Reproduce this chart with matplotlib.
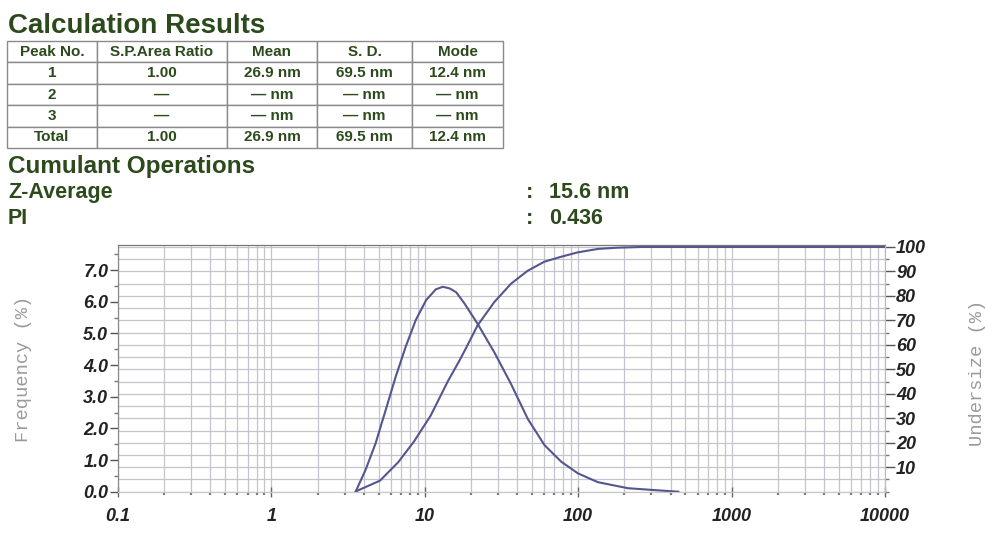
import numpy as np
import matplotlib.pyplot as plt
from matplotlib.ticker import FixedLocator, MultipleLocator, NullFormatter, LogLocator

plt.rcParams['font.family'] = ['Liberation Sans', 'DejaVu Sans']

# summary table
table_cols = ['Peak No.', 'S.P.Area Ratio', 'Mean', 'S. D.', 'Mode']
table_rows = [['1', '1.00', '26.9 nm', '69.5 nm', '12.4 nm'],
              ['2', '—', '— nm', '— nm', '— nm'],
              ['3', '—', '— nm', '— nm', '— nm'],
              ['Total', '1.00', '26.9 nm', '69.5 nm', '12.4 nm']]
cumulant_names = ['Z-Average', 'PI']
cumulant_values = ['15.6 nm', '0.436']

# frequency curve (%)
freq_size = [3.54, 4.11, 4.78, 5.56, 6.46, 7.51, 8.73, 10.2, 11.8, 13.1, 14.5, 16.0,
             18.1, 22.1, 28.4, 36.5, 46.9, 60.3, 77.4, 99.5, 134.5, 211, 316, 450]
freq_pct = [0.0, 0.69, 1.53, 2.58, 3.63, 4.58, 5.42, 6.05, 6.39, 6.47, 6.42, 6.3,
            5.95, 5.3, 4.4, 3.4, 2.3, 1.47, 0.95, 0.58, 0.3, 0.11, 0.05, 0.0]

# cumulative undersize curve (%)
cum_size = [3.54, 3.72, 5.1, 6.7, 8.5, 10.9, 12.4, 14.1, 16.8, 18.5, 22.1, 28.4,
            36.5, 46.9, 60.3, 77.4, 99.5, 134.5, 180, 260, 10000]
cum_pct = [0.0, 0.7, 4.5, 12.0, 20.5, 31.0, 38.0, 45.0, 53.5, 58.5, 68.0, 77.5,
           85.0, 90.3, 94.0, 96.0, 97.8, 99.2, 99.7, 100.0, 100.0]

x_ticks = [0.1, 1, 10, 100, 1000, 10000]
x_labels = ['0.1', '1', '10', '100', '1000', '10000']
freq_ticks = [0, 1, 2, 3, 4, 5, 6, 7]
cum_ticks = [10, 20, 30, 40, 50, 60, 70, 80, 90, 100]

W, H = 985, 558
green = '#2c4a1c'
line_col = '#55558f'
grid_col = '#c4c4cc'

fig = plt.figure(figsize=(W / 100, H / 100), dpi=100)

def fx(px):
    return px / W

def fy(py):
    return 1 - py / H

# headings
fig.text(fx(8), fy(33), 'Calculation Results', fontsize=20, fontweight='bold',
         color=green, va='baseline')
fig.text(fx(8), fy(173), 'Cumulant Operations', fontsize=17.5, fontweight='bold',
         color=green, va='baseline')
for i, (name, val) in enumerate(zip(cumulant_names, cumulant_values)):
    yb = fy(198 + i * 26)
    fig.text(fx(8), yb, name, fontsize=15.5, fontweight='bold', color=green, va='baseline')
    fig.text(fx(526), yb, ':', fontsize=15.5, fontweight='bold', color=green, va='baseline')
    fig.text(fx(549), yb, val, fontsize=15.5, fontweight='bold', color=green, va='baseline')

# table
tax = fig.add_axes([fx(7), fy(148), fx(503) - fx(7), (148 - 41) / H])
tax.axis('off')
col_w = np.array([90, 130, 90, 95, 91], dtype=float)
tbl = tax.table(cellText=table_rows, colLabels=table_cols, cellLoc='center',
                colWidths=list(col_w / col_w.sum()), bbox=[0, 0, 1, 1])
tbl.auto_set_font_size(False)
for (r, c), cell in tbl.get_celld().items():
    cell.set_edgecolor('#8a8a8a')
    cell.set_linewidth(1.0)
    cell.get_text().set_fontsize(11)
    cell.get_text().set_fontweight('bold')
    cell.get_text().set_color(green)

# main plot: cumulative on the base axes (right scale), frequency on the twin (left scale)
ax = fig.add_axes([fx(118), fy(491.7), fx(885) - fx(118), (491.7 - 245) / H])
ax.set_xscale('log')
ax.set_xlim(0.1, 10000)
ax.set_ylim(0, 100.8)
ax.set_axisbelow(True)
ax.plot(cum_size, cum_pct, color=line_col, lw=1.5)

ax2 = ax.twinx()
ax2.set_ylim(0, 7.79)
ax2.plot(freq_size, freq_pct, color=line_col, lw=1.5)
ax2.yaxis.tick_left()
ax.yaxis.tick_right()

ax.yaxis.set_major_locator(FixedLocator(cum_ticks))
ax.yaxis.set_minor_locator(MultipleLocator(5))
ax.xaxis.set_major_locator(FixedLocator(x_ticks))
ax.xaxis.set_minor_locator(LogLocator(base=10, subs=np.arange(2, 10)))
ax.xaxis.set_minor_formatter(NullFormatter())
ax.set_xticklabels(x_labels)
ax.grid(which='both', axis='both', color=grid_col, lw=0.9)
ax.tick_params(axis='y', which='major', direction='out', length=7, width=1,
               color='#555555', pad=1, labelsize=13)
ax.tick_params(axis='y', which='minor', direction='out', length=3, width=1, color='#777777')
ax.tick_params(axis='x', which='major', direction='inout', length=7, width=1,
               color='#666666', pad=8, labelsize=13)
ax.tick_params(axis='x', which='minor', direction='out', length=2, width=1.6, color='#777777')
for lab in ax.get_yticklabels() + ax.get_xticklabels():
    lab.set_fontweight('bold')
    lab.set_fontstyle('italic')
    lab.set_color('#222222')

ax2.yaxis.set_major_locator(FixedLocator(freq_ticks))
ax2.yaxis.set_minor_locator(MultipleLocator(0.5))
ax2.set_yticklabels([f'{v:.1f}' for v in freq_ticks])
ax2.tick_params(axis='y', which='major', direction='out', length=6, width=1,
                color='#555555', pad=1, labelsize=13)
ax2.tick_params(axis='y', which='minor', direction='out', length=3, width=1, color='#777777')
for lab in ax2.get_yticklabels():
    lab.set_fontweight('bold')
    lab.set_fontstyle('italic')
    lab.set_color('#222222')

for a in (ax, ax2):
    a.spines['top'].set_color('#777777')
    a.spines['left'].set_color('#888888')
    a.spines['right'].set_color('#bbbbbb')
    a.spines['bottom'].set_color('#c8c8c8')

fig.text(fx(24), fy(369), 'Frequency (%)', rotation=90, ha='center', va='center',
         fontsize=13.5, color='#9a9a9a', family=['Liberation Mono', 'DejaVu Sans Mono'])
fig.text(fx(977), fy(373), 'Undersize (%)', rotation=90, ha='center', va='center',
         fontsize=13.5, color='#9a9a9a', family=['Liberation Mono', 'DejaVu Sans Mono'])

fig.savefig('out.png', dpi=100)
